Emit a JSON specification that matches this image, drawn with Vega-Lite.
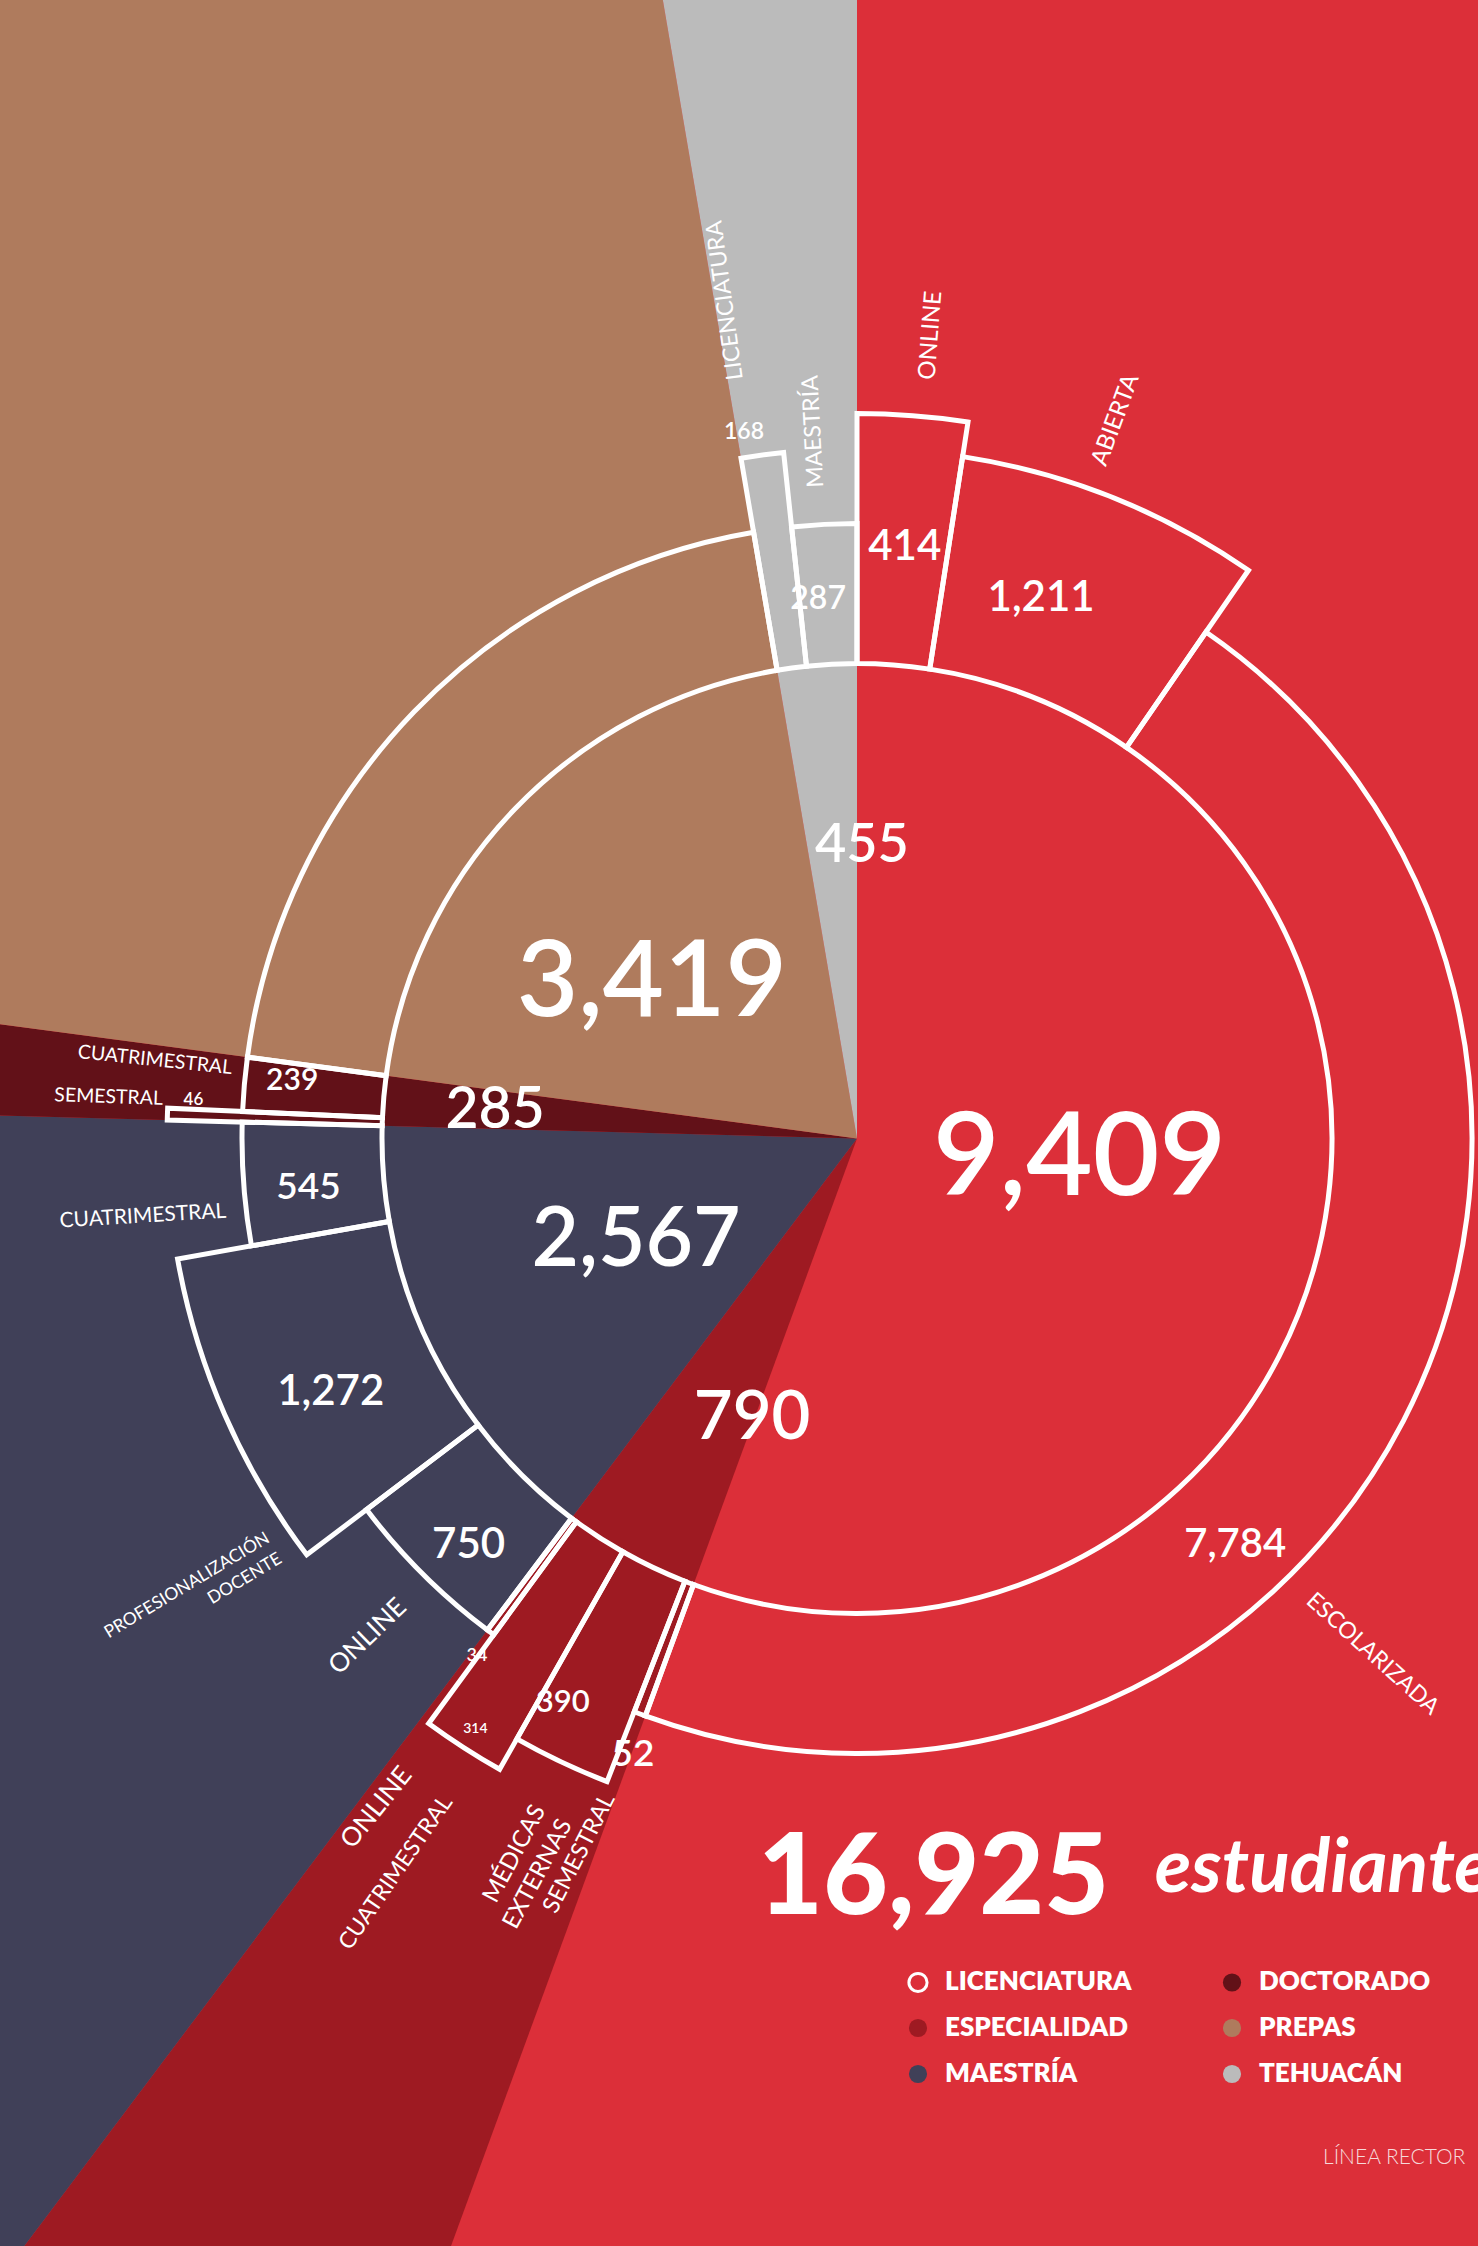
{
  "$schema": "https://vega.github.io/schema/vega-lite/v6.json",
  "autosize": "none",
  "padding": {"left": 236, "top": 31, "right": 0, "bottom": 0},
  "width": 1242,
  "height": 2215,
  "background": "#DC2F39",
  "config": {
    "view": {"stroke": null},
    "text": {"font": "Lato", "color": "#FFFFFF", "baseline": "middle", "align": "center"}
  },
  "title": {
    "text": "16,925",
    "subtitle": "\u200b\u2003\u2003\u2003\u2003\u2003\u2003\u2003\u2002estudiantes",
    "orient": "top", "anchor": "start", "frame": "group", "offset": -2299,
    "dx": 522,
    "font": "Lato", "fontSize": 112, "fontWeight": 900, "color": "#FFFFFF",
    "subtitleFont": "Lato", "subtitleFontSize": 75, "subtitleFontStyle": "italic", "subtitleFontWeight": 700, "subtitleColor": "#FFFFFF",
    "subtitlePadding": -105
  },
  "layer": [
    {
      "data": {"values": [
        {"n": 1, "cat": "LICENCIATURA", "v": 9409},
        {"n": 2, "cat": "ESPECIALIDAD", "v": 790},
        {"n": 3, "cat": "MAESTRÍA", "v": 2567},
        {"n": 4, "cat": "DOCTORADO", "v": 285},
        {"n": 5, "cat": "PREPAS", "v": 3419},
        {"n": 6, "cat": "TEHUACÁN", "v": 455}
      ]},
      "encoding": {
        "theta": {"field": "v", "type": "quantitative", "stack": true},
        "order": {"field": "n", "type": "quantitative"}
      },
      "layer": [
        {
          "mark": {"type": "arc", "innerRadius": 0, "outerRadius": 1500, "strokeWidth": 0},
          "encoding": {
            "color": {
              "field": "cat", "type": "nominal",
              "scale": {
                "domain": ["LICENCIATURA", "ESPECIALIDAD", "MAESTRÍA", "DOCTORADO", "PREPAS", "TEHUACÁN"],
                "range": ["#DC2F39", "#9E1A22", "#404058", "#621118", "#AF7B5D", "#BBBBBB"]
              },
              "legend": {
                "title": "LÍNEA RECTOR", "titleOrient": "bottom", "titleAnchor": "start", "titlePadding": 58,
                "titleFont": "Lato", "titleFontSize": 21, "titleFontWeight": 300, "titleColor": "#F6D9DA", "titleLimit": 0,
                "orient": "none", "legendX": 669, "legendY": 1938,
                "columns": 2, "symbolType": "circle", "symbolSize": 330, "symbolOpacity": 1,
                "labelFont": "Lato", "labelFontSize": 26, "labelFontWeight": 800, "labelColor": "#FFFFFF",
                "labelLimit": 0, "labelOffset": 14, "columnPadding": 84, "rowPadding": 14, "padding": 0,
                "encode": {
                  "symbols": {"update": {
                    "stroke": {"signal": "datum.label === 'LICENCIATURA' ? '#FFFFFF' : 'transparent'"},
                    "strokeWidth": {"value": 3}
                  }},
                  "title": {"update": {"dx": {"value": 418}}}
                }
              }
            }
          }
        },
        {"mark": {"type": "text", "radius": 224, "fontSize": 115, "fontWeight": 600, "dx": 2, "dy": -18},
         "encoding": {"text": {"condition": {"test": "datum.cat==='LICENCIATURA'", "field": "v", "type": "quantitative", "format": ","}, "value": ""}}},
        {"mark": {"type": "text", "radius": 260, "fontSize": 106, "fontWeight": 600, "dx": -18, "dy": 26},
         "encoding": {"text": {"condition": {"test": "datum.cat==='PREPAS'", "field": "v", "type": "quantitative", "format": ","}, "value": ""}}},
        {"mark": {"type": "text", "radius": 242, "fontSize": 82, "fontWeight": 600, "dx": -3, "dy": -3},
         "encoding": {"text": {"condition": {"test": "datum.cat==='MAESTRÍA'", "field": "v", "type": "quantitative", "format": ","}, "value": ""}}},
        {"mark": {"type": "text", "radius": 363, "fontSize": 57, "fontWeight": 600, "dy": 1},
         "encoding": {"text": {"condition": {"test": "datum.cat==='DOCTORADO'", "field": "v", "type": "quantitative", "format": ","}, "value": ""}}},
        {"mark": {"type": "text", "radius": 295, "fontSize": 67, "fontWeight": 600, "dx": 36, "dy": 21},
         "encoding": {"text": {"condition": {"test": "datum.cat==='ESPECIALIDAD'", "field": "v", "type": "quantitative", "format": ","}, "value": ""}}},
        {"mark": {"type": "text", "radius": 297, "fontSize": 54, "fontWeight": 600, "dx": 30, "dy": 3},
         "encoding": {"text": {"condition": {"test": "datum.cat==='TEHUACÁN'", "field": "v", "type": "quantitative", "format": ","}, "value": ""}}}
      ]
    },
    {
      "data": {"values": [
        {"n": 1, "k": "lo", "g": "LICENCIATURA", "sub": "ONLINE", "v": 414, "tier": 3},
        {"n": 2, "k": "la", "g": "LICENCIATURA", "sub": "ABIERTA", "v": 1211, "tier": 2},
        {"n": 3, "k": "le", "g": "LICENCIATURA", "sub": "ESCOLARIZADA", "v": 7784, "tier": 1},
        {"n": 4, "k": "es", "g": "ESPECIALIDAD", "sub": "SEMESTRAL", "v": 52, "tier": 1},
        {"n": 5, "k": "em", "g": "ESPECIALIDAD", "sub": ["MÉDICAS", "EXTERNAS"], "v": 390, "tier": 2},
        {"n": 6, "k": "ec", "g": "ESPECIALIDAD", "sub": "CUATRIMESTRAL", "v": 314, "tier": 3},
        {"n": 7, "k": "eo", "g": "ESPECIALIDAD", "sub": "ONLINE", "v": 34, "tier": 1},
        {"n": 8, "k": "mo", "g": "MAESTRÍA", "sub": "ONLINE", "v": 750, "tier": 1},
        {"n": 9, "k": "mp", "g": "MAESTRÍA", "sub": ["PROFESIONALIZACIÓN", "DOCENTE"], "v": 1272, "tier": 2},
        {"n": 10, "k": "mc", "g": "MAESTRÍA", "sub": "CUATRIMESTRAL", "v": 545, "tier": 1},
        {"n": 11, "k": "ds", "g": "DOCTORADO", "sub": "SEMESTRAL", "v": 46, "tier": 2},
        {"n": 12, "k": "dc", "g": "DOCTORADO", "sub": "CUATRIMESTRAL", "v": 239, "tier": 1},
        {"n": 13, "k": "pp", "g": "PREPAS", "sub": "", "v": 3419, "tier": 1},
        {"n": 14, "k": "tl", "g": "TEHUACÁN", "sub": "LICENCIATURA", "v": 168, "tier": 2},
        {"n": 15, "k": "tm", "g": "TEHUACÁN", "sub": "MAESTRÍA", "v": 287, "tier": 1}
      ]},
      "encoding": {
        "theta": {"field": "v", "type": "quantitative", "stack": true},
        "order": {"field": "n", "type": "quantitative"}
      },
      "layer": [
        {
          "transform": [{"stack": "v", "groupby": [], "sort": [{"field": "n", "order": "ascending"}], "as": ["s0", "s1"]}],
          "mark": {"type": "arc", "innerRadius": 475, "fill": "transparent", "stroke": "#FFFFFF", "strokeWidth": 5, "strokeJoin": "miter"},
          "encoding": {
            "theta": {"field": "s0", "type": "quantitative"},
            "theta2": {"field": "s1"},
            "radius": {"field": "tier", "type": "quantitative", "scale": {"type": "linear", "domain": [1, 2, 3], "range": [615, 690, 725], "zero": false}}
          }
        },
        {"mark": {"type": "text", "radius": 596, "fontSize": 42, "fontWeight": 600, "dx": 2, "dy": 2.5},
         "encoding": {"text": {"condition": {"test": "datum.k==='lo'", "field": "v", "type": "quantitative", "format": ","}, "value": ""}}},
        {"mark": {"type": "text", "radius": 574, "fontSize": 42, "fontWeight": 600, "dx": -28, "dy": -7.5},
         "encoding": {"text": {"condition": {"test": "datum.k==='la'", "field": "v", "type": "quantitative", "format": ","}, "value": ""}}},
        {"mark": {"type": "text", "radius": 553, "fontSize": 40, "fontWeight": 600, "dx": -113, "dy": 152},
         "encoding": {"text": {"condition": {"test": "datum.k==='le'", "field": "v", "type": "quantitative", "format": ","}, "value": ""}}},
        {"mark": {"type": "text", "radius": 654, "fontSize": 37, "fontWeight": 600, "dx": 7, "dy": 5},
         "encoding": {"text": {"condition": {"test": "datum.k==='es'", "field": "v", "type": "quantitative", "format": ","}, "value": ""}}},
        {"mark": {"type": "text", "radius": 635, "fontSize": 31, "fontWeight": 600, "dx": -22, "dy": -9},
         "encoding": {"text": {"condition": {"test": "datum.k==='em'", "field": "v", "type": "quantitative", "format": ","}, "value": ""}}},
        {"mark": {"type": "text", "radius": 703, "fontSize": 14, "fontWeight": 600},
         "encoding": {"text": {"condition": {"test": "datum.k==='ec'", "field": "v", "type": "quantitative", "format": ","}, "value": ""}}},
        {"mark": {"type": "text", "radius": 641, "fontSize": 18, "fontWeight": 600, "dx": 2, "dy": 3},
         "encoding": {"text": {"condition": {"test": "datum.k==='eo'", "field": "v", "type": "quantitative", "format": ","}, "value": ""}}},
        {"mark": {"type": "text", "radius": 560, "fontSize": 42, "fontWeight": 600, "dx": 7, "dy": 9.5},
         "encoding": {"text": {"condition": {"test": "datum.k==='mo'", "field": "v", "type": "quantitative", "format": ","}, "value": ""}}},
        {"mark": {"type": "text", "radius": 583, "fontSize": 42, "fontWeight": 600, "dx": 8, "dy": 20.5},
         "encoding": {"text": {"condition": {"test": "datum.k==='mp'", "field": "v", "type": "quantitative", "format": ","}, "value": ""}}},
        {"mark": {"type": "text", "radius": 550, "fontSize": 37, "fontWeight": 600, "dy": 9},
         "encoding": {"text": {"condition": {"test": "datum.k==='mc'", "field": "v", "type": "quantitative", "format": ","}, "value": ""}}},
        {"mark": {"type": "text", "radius": 668, "fontSize": 17, "fontWeight": 600, "dx": 4, "dy": -15},
         "encoding": {"text": {"condition": {"test": "datum.k==='ds'", "field": "v", "type": "quantitative", "format": ","}, "value": ""}}},
        {"mark": {"type": "text", "radius": 567, "fontSize": 30, "fontWeight": 600, "dy": -8},
         "encoding": {"text": {"condition": {"test": "datum.k==='dc'", "field": "v", "type": "quantitative", "format": ","}, "value": ""}}},
        {"mark": {"type": "text", "radius": 714, "fontSize": 23, "fontWeight": 600, "dx": -15, "dy": 1},
         "encoding": {"text": {"condition": {"test": "datum.k==='tl'", "field": "v", "type": "quantitative", "format": ","}, "value": ""}}},
        {"mark": {"type": "text", "radius": 542, "fontSize": 32, "fontWeight": 600, "dx": -10, "dy": 2},
         "encoding": {"text": {"condition": {"test": "datum.k==='tm'", "field": "v", "type": "quantitative", "format": ","}, "value": ""}}},

        {"mark": {"type": "text", "radius": 762, "angle": 274.4, "align": "left", "fontSize": 24, "dy": 12},
         "encoding": {"text": {"condition": {"test": "datum.k==='lo'", "field": "sub", "type": "nominal"}, "value": ""}}},
        {"mark": {"type": "text", "radius": 716, "angle": 290.4, "align": "left", "fontSize": 24, "dy": -24},
         "encoding": {"text": {"condition": {"test": "datum.k==='la'", "field": "sub", "type": "nominal"}, "value": ""}}},
        {"mark": {"type": "text", "radius": 640, "angle": 42, "align": "center", "fontSize": 23, "dx": 109, "dy": 200},
         "encoding": {"text": {"condition": {"test": "datum.k==='le'", "field": "sub", "type": "nominal"}, "value": ""}}},
        {"mark": {"type": "text", "radius": 769, "angle": 262.3, "align": "left", "fontSize": 23, "dx": -1, "dy": -16},
         "encoding": {"text": {"condition": {"test": "datum.k==='tl'", "field": "sub", "type": "nominal"}, "value": ""}}},
        {"mark": {"type": "text", "radius": 652, "angle": 267, "align": "left", "fontSize": 23, "dy": -6},
         "encoding": {"text": {"condition": {"test": "datum.k==='tm'", "field": "sub", "type": "nominal"}, "value": ""}}},
        {"mark": {"type": "text", "radius": 629, "angle": 6, "align": "right", "fontSize": 19.5, "dy": -15},
         "encoding": {"text": {"condition": {"test": "datum.k==='dc'", "field": "sub", "type": "nominal"}, "value": ""}}},
        {"mark": {"type": "text", "radius": 695, "angle": 2, "align": "right", "fontSize": 19.5, "dy": -15},
         "encoding": {"text": {"condition": {"test": "datum.k==='ds'", "field": "sub", "type": "nominal"}, "value": ""}}},
        {"mark": {"type": "text", "radius": 634, "angle": 356.6, "align": "right", "fontSize": 21, "dy": 26},
         "encoding": {"text": {"condition": {"test": "datum.k==='mc'", "field": "sub", "type": "nominal"}, "value": ""}}},
        {"mark": {"type": "text", "radius": 711, "angle": 329, "align": "right", "fontSize": 17.5, "lineHeight": 24, "dx": -5, "dy": 130},
         "encoding": {"text": {"condition": {"test": "datum.k==='mp'", "field": "sub", "type": "nominal"}, "value": ""}}},
        {"mark": {"type": "text", "radius": 650, "angle": 316, "align": "right", "fontSize": 26, "dy": 6},
         "encoding": {"text": {"condition": {"test": "datum.k==='mo'", "field": "sub", "type": "nominal"}, "value": ""}}},
        {"mark": {"type": "text", "radius": 775, "angle": 309, "align": "right", "fontSize": 26, "dy": 15},
         "encoding": {"text": {"condition": {"test": "datum.k==='eo'", "field": "sub", "type": "nominal"}, "value": ""}}},
        {"mark": {"type": "text", "radius": 776, "angle": 304.7, "align": "right", "fontSize": 22.8, "dy": 14},
         "encoding": {"text": {"condition": {"test": "datum.k==='ec'", "field": "sub", "type": "nominal"}, "value": ""}}},
        {"mark": {"type": "text", "radius": 740, "angle": 298, "align": "right", "fontSize": 24, "lineHeight": 30},
         "encoding": {"text": {"condition": {"test": "datum.k==='em'", "field": "sub", "type": "nominal"}, "value": ""}}},
        {"mark": {"type": "text", "radius": 702, "angle": 297, "align": "right", "fontSize": 23.4},
         "encoding": {"text": {"condition": {"test": "datum.k==='es'", "field": "sub", "type": "nominal"}, "value": ""}}}
      ]
    }
  ]
}
